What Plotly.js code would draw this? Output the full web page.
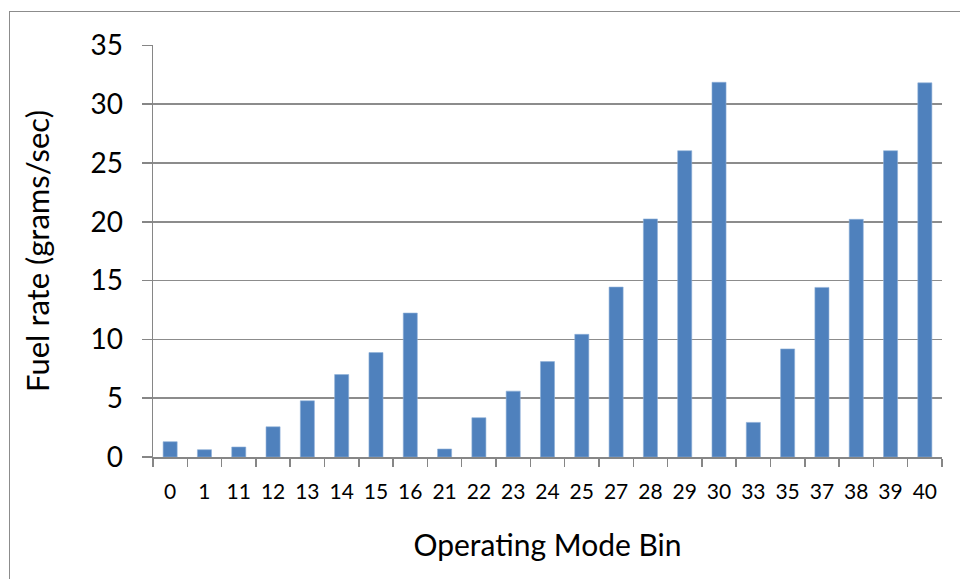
<!DOCTYPE html>
<html>
<head>
<meta charset="utf-8">
<script src="https://cdn.plot.ly/plotly-3.0.1.min.js"></script>
<style>
html,body{margin:0;padding:0;background:#fff;overflow:hidden;}
#frame{position:absolute;left:9px;top:11px;width:980px;height:600px;border:1.5px solid #8c8c8c;box-sizing:border-box;}
#chart{position:absolute;left:0;top:0;width:960px;height:579px;}
</style>
</head>
<body>
<div id="frame"></div>
<div id="chart"></div>
<script>
const categories = ["0","1","11","12","13","14","15","16","21","22","23","24","25","27","28","29","30","33","35","37","38","39","40"];
const fuelRate = [1.30,0.62,0.85,2.57,4.78,7.01,8.88,12.24,0.68,3.34,5.60,8.11,10.43,14.45,20.24,26.04,31.86,2.94,9.19,14.42,20.21,26.04,31.81];
const yTicks = [0,5,10,15,20,25,30,35];

const font = "Lato, Open Sans, sans-serif";
const trace = {
  type: 'bar',
  x: categories,
  y: fuelRate,
  marker: {color: '#4F81BD', line: {color: '#8fb0d8', width: 0.6}},
  hoverinfo: 'skip'
};
const layout = {
  width: 960, height: 579,
  margin: {l: 153, r: 18, t: 44.5, b: 122, pad: 0},
  paper_bgcolor: 'rgba(0,0,0,0)',
  plot_bgcolor: 'rgba(0,0,0,0)',
  bargap: 0.59,
  showlegend: false,
  font: {family: font, color: '#000'},
  xaxis: {
    type: 'category',
    tickson: 'boundaries',
    ticks: 'outside', ticklen: 8, tickcolor: '#868686', tickwidth: 1.5,
    showline: true, linecolor: '#868686', linewidth: 1.5,
    showgrid: false,
    tickfont: {size: 21, family: font},
    ticklabelstandoff: 15,
    title: {text: 'Operating Mode Bin', font: {size: 30, family: font}, standoff: 33}
  },
  yaxis: {
    range: [0, 35.03],
    tickvals: yTicks,
    ticktext: yTicks.map(String),
    ticks: 'outside', ticklen: 10, tickcolor: '#868686', tickwidth: 1.5,
    showline: true, linecolor: '#868686', linewidth: 1.5,
    showgrid: true, gridcolor: '#8c8c8c', gridwidth: 1.5,
    zeroline: false,
    tickfont: {size: 28, family: font},
    ticklabelstandoff: 13,
    title: {text: 'Fuel rate (grams/sec)', font: {size: 31, family: font}, standoff: 31}
  }
};
Plotly.newPlot('chart', [trace], layout, {displayModeBar: false, staticPlot: true});
</script>
</body>
</html>
